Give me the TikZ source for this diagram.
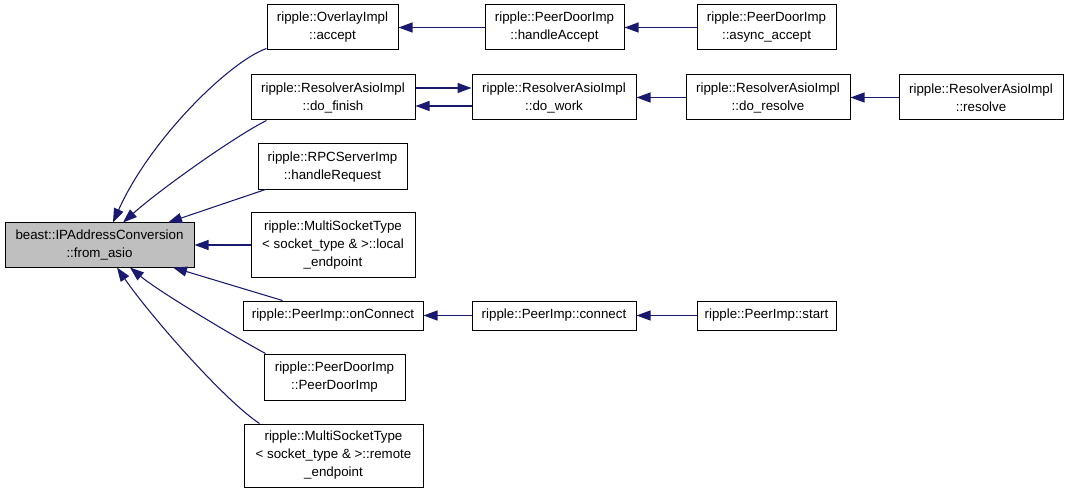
\documentclass[tikz,border=0pt]{standalone}
\usepackage{fontspec}
\setmainfont{Liberation Sans}
\usetikzlibrary{arrows.meta,calc}
\definecolor{cgedge}{RGB}{25,25,112}
\definecolor{cgsel}{RGB}{191,191,191}
\tikzset{
  fnbox/.style={
    draw=black, line width=0.75pt, fill=white,
    align=center, inner sep=0pt, font=\fontsize{10}{13.5}\selectfont,
    minimum width=123pt, minimum height=33.75pt
  },
  sel/.style={fnbox, fill=cgsel},
  arr/.style={-{Triangle[length=10.5pt,width=7.5pt]}, draw=cgedge, line width=0.8pt}
}

\begin{document}
\begin{tikzpicture}[x=0.75pt,y=0.75pt]
  \useasboundingbox (0,0) rectangle (1069,493);
  % the function itself
  \node[sel, minimum width=141.75pt, minimum height=33pt] (fromasio) at (99.5,248)
    {beast::IPAddressConversion\\::from\_asio};
  % first column of callers
  \node[fnbox, minimum width=98.25pt] (accept) at (332.5,465.5) {ripple::OverlayImpl\\::accept};
  \node[fnbox] (dofinish) at (333,395.5) {ripple::ResolverAsioImpl\\::do\_finish};
  \node[fnbox, minimum width=111.75pt, minimum height=34.5pt] (handlereq) at (332.5,326)
    {ripple::RPCServerImp\\::handleRequest};
  \node[fnbox, minimum height=48pt] (localep) at (333,248)
    {ripple::MultiSocketType\\< socket\_type \& >::local\\\_endpoint};
  \node[fnbox, minimum width=135pt, minimum height=21.75pt] (onconnect) at (333,177.5)
    {ripple::PeerImp::onConnect};
  \node[fnbox, minimum width=105.75pt, minimum height=34.5pt] (peerdoor) at (334.5,116)
    {ripple::PeerDoorImp\\::PeerDoorImp};
  \node[fnbox, minimum width=134.25pt, minimum height=47.25pt] (remoteep) at (333.5,37.5)
    {ripple::MultiSocketType\\< socket\_type \& >::remote\\\_endpoint};
  % further callers
  \node[fnbox, minimum width=104.25pt] (handleaccept) at (554.5,465.5) {ripple::PeerDoorImp\\::handleAccept};
  \node[fnbox, minimum width=104.25pt] (asyncaccept) at (766.5,465.5) {ripple::PeerDoorImp\\::async\_accept};
  \node[fnbox] (dowork) at (554,395.5) {ripple::ResolverAsioImpl\\::do\_work};
  \node[fnbox] (doresolve) at (768,395.5) {ripple::ResolverAsioImpl\\::do\_resolve};
  \node[fnbox] (resolve) at (981,395.5) {ripple::ResolverAsioImpl\\::resolve};
  \node[fnbox, minimum height=21.75pt] (connect) at (554,177.5) {ripple::PeerImp::connect};
  \node[fnbox, minimum width=104.25pt, minimum height=21.75pt] (start) at (766.5,177.5) {ripple::PeerImp::start};
  % edges into from_asio
  \draw[arr] ($(accept.south west)+(0,2)$) .. controls +(-37,-13) and +(37,83) .. ($(fromasio.north)+(13.5,0)$);
  \draw[arr] ($(dofinish.south west)+(16,0)$) .. controls +(-32,-16) and +(37,33) .. ($(fromasio.north)+(23.5,0)$);
  \draw[arr] ($(handlereq.south west)+(8,1)$) -- ($(fromasio.north)+(68.5,0)$);
  \draw[arr] (localep) -- (fromasio);
  \draw[arr] ($(onconnect.north west)+(40,0)$) -- ($(fromasio.south)+(73.5,0)$);
  \draw[arr] ($(peerdoor.north west)+(2,0)$) .. controls +(-26,14) and +(30,-25) .. ($(fromasio.south)+(30.5,0)$);
  \draw[arr] ($(remoteep.north west)+(16,0)$) .. controls +(-35,23) and +(33,-48) .. ($(fromasio.south)+(17.5,0)$);
  % edges between callers
  \draw[arr] (handleaccept) -- (accept);
  \draw[arr] (asyncaccept) -- (handleaccept);
  \draw[arr] ($(dofinish.east)+(0,9.5)$) -- ($(dowork.west)+(0,9.5)$);
  \draw[arr] ($(dowork.west)+(0,-8.5)$) -- ($(dofinish.east)+(0,-8.5)$);
  \draw[arr] (doresolve) -- (dowork);
  \draw[arr] (resolve) -- (doresolve);
  \draw[arr] (connect) -- (onconnect);
  \draw[arr] (start) -- (connect);
\end{tikzpicture}
\end{document}
